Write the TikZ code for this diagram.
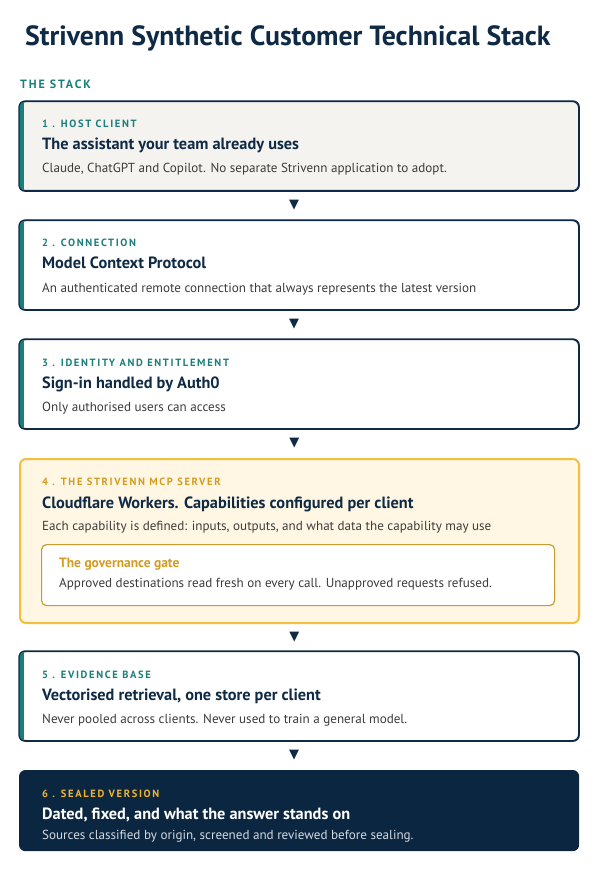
\documentclass[tikz,border=0pt]{standalone}
\usepackage{fontspec}
\setmainfont{PT Sans}
\newfontfamily\symfont{DejaVu Sans}
\usetikzlibrary{calc}
\definecolor{navy}{HTML}{0E2A45}
\definecolor{tealc}{HTML}{1A7F7A}
\definecolor{goldlbl}{HTML}{D39C1F}
\definecolor{goldbright}{HTML}{F2B52A}
\definecolor{goldborder}{HTML}{F5BE3C}
\definecolor{goldfill}{HTML}{FFF7E4}
\definecolor{innerborder}{HTML}{C99A2E}
\definecolor{greyfill}{HTML}{F4F3F0}
\definecolor{bodyc}{HTML}{3C3C3C}
\definecolor{darkfill}{HTML}{0B2640}
\definecolor{lightbody}{HTML}{D3D9E0}
\tikzset{
  stackbox/.style={draw=navy, line width=1.2pt, rounded corners=6pt, anchor=north west, minimum width=559pt, minimum height=89pt, inner sep=0pt},
  lbl/.style={anchor=base west, inner sep=0pt, font=\fontsize{10.5}{12}\selectfont\bfseries\addfontfeature{LetterSpace=16}},
  head/.style={anchor=base west, inner sep=0pt, text=navy, font=\fontsize{16.3}{19}\selectfont\bfseries},
  body/.style={anchor=base west, inner sep=0pt, text=bodyc, font=\fontsize{13.1}{16}\selectfont},
  tri/.style={inner sep=0pt, text=navy, font=\symfont\fontsize{13}{13}\selectfont},
}
\begin{document}
\begin{tikzpicture}[x=1pt,y=-1pt]
\useasboundingbox (0,0) rectangle (600,882);
\fill[white] (0,0) rectangle (600,882);

\node[anchor=base west, inner sep=0pt, text=navy, font=\fontsize{27.8}{32}\selectfont\bfseries] (title) at (25,46) {Strivenn Synthetic Customer Technical Stack};
\node[anchor=base west, inner sep=0pt, text=tealc, font=\fontsize{12}{14}\selectfont\bfseries\addfontfeature{LetterSpace=16}] (stack) at (20,89) {THE STACK};

% boxes
\node[stackbox, fill=greyfill] (b1) at (19,101) {};
\node[stackbox, fill=white] (b2) at (19,220) {};
\node[stackbox, fill=white] (b3) at (19,339) {};
\node[stackbox, draw=goldborder, line width=2pt, fill=goldfill, minimum height=164pt] (b4) at (19,458) {};
\node[draw=innerborder, line width=1.2pt, rounded corners=5pt, fill=white, anchor=north west, minimum width=513pt, minimum height=61pt, inner sep=0pt] (g) at (41,544) {};
\node[stackbox, fill=white] (b5) at (19,651) {};
\node[stackbox, draw=darkfill, fill=darkfill, minimum height=80pt] (b6) at (19,770) {};

% teal accent bars
\foreach \b in {b1,b2,b3,b5}{
  \begin{scope}
    \clip[rounded corners=6pt] (\b.north west) rectangle (\b.south east);
    \fill[tealc] ($(\b.north west)+(-1,-1)$) rectangle ($(\b.south west)+(4.5,1)$);
  \end{scope}
  \draw[navy, line width=1.2pt, rounded corners=6pt] (\b.north west) rectangle (\b.south east);
}

% texts box 1
\node[lbl, text=tealc] (l1) at (42,128) {1 . HOST CLIENT};
\node[head] (h1) at (42,150) {The assistant your team already uses};
\node[body] (d1) at (42,173) {Claude, ChatGPT and Copilot. No separate Strivenn application to adopt.};
% box 2
\node[lbl, text=tealc] (l2) at (42,247) {2 . CONNECTION};
\node[head] (h2) at (42,269) {Model Context Protocol};
\node[body] (d2) at (42,292) {An authenticated remote connection that always represents the latest version};
% box 3
\node[lbl, text=tealc] (l3) at (42,366) {3 . IDENTITY AND ENTITLEMENT};
\node[head] (h3) at (42,388) {Sign-in handled by Auth0};
\node[body] (d3) at (42,411) {Only authorised users can access};
% box 4
\node[lbl, text=goldlbl] (l4) at (42,485) {4 . THE STRIVENN MCP SERVER};
\node[head] (h4) at (42,508) {Cloudflare Workers. Capabilities configured per client};
\node[body] (d4) at (42,530) {Each capability is defined: inputs, outputs, and what data the capability may use};
\node[anchor=base west, inner sep=0pt, text=goldlbl, font=\fontsize{13.5}{16}\selectfont\bfseries] (gt) at (59,567) {The governance gate};
\node[body] (gd) at (59,587) {Approved destinations read fresh on every call. Unapproved requests refused.};
% box 5
\node[lbl, text=tealc] (l5) at (42,678) {5 . EVIDENCE BASE};
\node[head] (h5) at (42,700) {Vectorised retrieval, one store per client};
\node[body] (d5) at (42,723) {Never pooled across clients. Never used to train a general model.};
% box 6
\node[lbl, text=goldbright] (l6) at (42,797) {6 . SEALED VERSION};
\node[head, text=white] (h6) at (42,819) {Dated, fixed, and what the answer stands on};
\node[body, text=lightbody] (d6) at (42,839) {Sources classified by origin, screened and reviewed before sealing.};

% arrows
\node[tri] (a1) at ($($(b1.south)!0.5!(b2.north)$)+(-5,0)$) {▼};
\node[tri] (a2) at ($($(b2.south)!0.5!(b3.north)$)+(-5,0)$) {▼};
\node[tri] (a3) at ($($(b3.south)!0.5!(b4.north)$)+(-5,0)$) {▼};
\node[tri] (a4) at ($($(b4.south)!0.5!(b5.north)$)+(-5,0)$) {▼};
\node[tri] (a5) at ($($(b5.south)!0.5!(b6.north)$)+(-5,0)$) {▼};
\end{tikzpicture}
\end{document}
